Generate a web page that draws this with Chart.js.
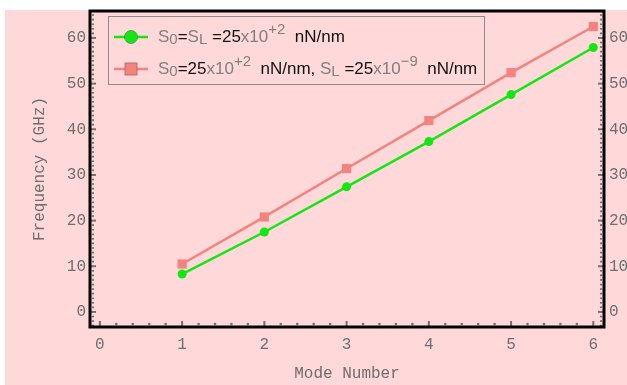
<!DOCTYPE html>
<html>
<head>
<meta charset="utf-8">
<script src="https://cdn.jsdelivr.net/npm/chart.js@4.4.1/dist/chart.umd.min.js"></script>
<style>
  html, body { margin: 0; padding: 0; background: #ffffff; }
  #wrap { position: relative; width: 627px; height: 385px; }
</style>
</head>
<body>
<div id="wrap"><canvas id="chart" width="627" height="385"></canvas></div>
<script>
// Données.
const modes = [ 1, 2, 3, 4, 5, 6 ];
const freq_same = [ 8.3, 17.5, 27.4, 37.3, 47.6, 57.9 ];
const freq_diff = [ 10.5, 20.8, 31.4, 41.9, 52.4, 62.5 ];
const x_ticks = [ 0, 1, 2, 3, 4, 5, 6 ];
const y_ticks = [ 0, 10, 20, 30, 40, 50, 60 ];

const GRAY_TEXT = "#6e6e6e";
const MONO = "'Liberation Mono', 'DejaVu Sans Mono', monospace";
const SANS = "'Liberation Sans', Arial, sans-serif";
const GREEN = "#14e614";
const RED = "#f4827e";

// Libellés de la légende : [texte, couleur, décalage] ( 0 normal, 1 exposant, -1 indice ).
const legend_same = [
	[ "S", "#808080", 0 ], [ "0", "#808080", -1 ], [ "=", "#111", 0 ],
	[ "S", "#808080", 0 ], [ "L", "#808080", -1 ], [ " =25", "#111", 0 ],
	[ "x10", "#808080", 0 ], [ "+2", "#808080", 1 ], [ "  nN/nm", "#111", 0 ]
];
const legend_diff = [
	[ "S", "#808080", 0 ], [ "0", "#808080", -1 ], [ "=25", "#111", 0 ],
	[ "x10", "#808080", 0 ], [ "+2", "#808080", 1 ], [ "  nN/nm, ", "#111", 0 ],
	[ "S", "#808080", 0 ], [ "L", "#808080", -1 ], [ " =25", "#111", 0 ],
	[ "x10", "#808080", 0 ], [ "\u22129", "#808080", 1 ], [ "  nN/nm", "#111", 0 ]
];

const to_points = ( values ) => modes.map( ( m, i ) => ( { x: m, y: values[ i ] } ) );

// Fond rose, cadre noir et petites graduations pointillées.
const frame_plugin = {
	id: "frame",
	beforeDraw( chart )
	{
		const ctx = chart.ctx;
		ctx.save();
		ctx.fillStyle = "#ffd9d9";
		ctx.fillRect( 5, 10, chart.width - 5, chart.height - 10 );
		ctx.restore();
	},
	afterDatasetsDraw( chart )
	{
		const ctx = chart.ctx;
		const area = chart.chartArea;
		const sx = chart.scales.x;
		const sy = chart.scales.y;
		ctx.save();

		// Graduations de l'axe X (tous les 0.2).
		ctx.fillStyle = "#707070";
		ctx.strokeStyle = "#707070";
		for ( let k = 0; k <= 30; k++ )
		{
			const px = sx.getPixelForValue( k * 0.2 );
			if ( k % 5 === 0 )
			{
				ctx.lineWidth = 2;
				ctx.beginPath();
				ctx.moveTo( px, area.bottom - 1 );
				ctx.lineTo( px, area.bottom - 6 );
				ctx.stroke();
			}
			else
			{
				ctx.beginPath();
				ctx.arc( px, area.bottom - 3, 1.3, 0, Math.PI * 2 );
				ctx.fill();
			}
		}

		// Graduations des axes Y (toutes les unités).
		for ( let v = -3; v <= 65; v++ )
		{
			const py = sy.getPixelForValue( v );
			for ( const side of [ area.left, area.right ] )
			{
				const dir = side === area.left ? 1 : -1;
				if ( v % 10 === 0 )
				{
					ctx.lineWidth = 2;
					ctx.beginPath();
					ctx.moveTo( side + dir, py );
					ctx.lineTo( side + dir * 6, py );
					ctx.stroke();
				}
				else
				{
					ctx.beginPath();
					ctx.arc( side + dir * 3, py, 1.1, 0, Math.PI * 2 );
					ctx.fill();
				}
			}
		}

		// Cadre noir.
		ctx.strokeStyle = "#000";
		ctx.lineWidth = 3;
		ctx.strokeRect( area.left, area.top, area.right - area.left, area.bottom - area.top );
		ctx.restore();
	}
};

// Légende dessinée à la main pour les indices et exposants.
function draw_rich( ctx, parts, x, y )
{
	let cx = x;
	for ( const [ text, color, shift ] of parts )
	{
		ctx.font = shift === 0 ? "17px " + SANS : "15px " + SANS;
		ctx.fillStyle = color;
		const dy = shift === 1 ? -7 : ( shift === -1 ? 3 : 0 );
		ctx.fillText( text, cx, y + dy );
		cx += ctx.measureText( text ).width;
	}
}

const legend_plugin = {
	id: "rich_legend",
	afterDraw( chart )
	{
		const ctx = chart.ctx;
		ctx.save();
		ctx.fillStyle = "#ffd9d9";
		ctx.fillRect( 108, 16, 376, 68 );
		ctx.strokeStyle = "#8a8a8a";
		ctx.lineWidth = 1;
		ctx.strokeRect( 108.5, 16.5, 376, 68 );

		const rows = [
			{ y: 37, color: GREEN, marker: "circle", parts: legend_same },
			{ y: 69, color: RED, marker: "rect", parts: legend_diff }
		];
		for ( const row of rows )
		{
			ctx.strokeStyle = row.color;
			ctx.lineWidth = 2.5;
			ctx.beginPath();
			ctx.moveTo( 114, row.y );
			ctx.lineTo( 148, row.y );
			ctx.stroke();
			ctx.fillStyle = row.color;
			if ( row.marker === "circle" )
			{
				ctx.beginPath();
				ctx.arc( 131, row.y, 6.5, 0, Math.PI * 2 );
				ctx.fill();
				ctx.strokeStyle = "#3a9a3a";
				ctx.lineWidth = 0.8;
				ctx.stroke();
			}
			else
			{
				ctx.fillRect( 125, row.y - 6, 12, 12 );
				ctx.strokeStyle = "#b06060";
				ctx.lineWidth = 0.8;
				ctx.strokeRect( 125, row.y - 6, 12, 12 );
			}
			ctx.textBaseline = "middle";
			draw_rich( ctx, row.parts, 158, row.y );
		}
		ctx.restore();
	}
};

const tick_style = {
	color: GRAY_TEXT,
	font: { family: MONO, size: 16 }
};

// Supprime les marges ajoutées par Chart.js pour les libellés extrêmes.
const no_padding = ( scale ) =>
{
	scale.paddingTop = 0;
	scale.paddingBottom = 0;
	scale.paddingLeft = 0;
	scale.paddingRight = 0;
};

new Chart( document.getElementById( "chart" ),
	{
		type: "line",
		data: {
			datasets: [
				{
					data: to_points( freq_same ),
					borderColor: GREEN,
					backgroundColor: GREEN,
					borderWidth: 2.5,
					pointStyle: "circle",
					pointRadius: 4.5,
					pointBorderWidth: 0
				},
				{
					data: to_points( freq_diff ),
					borderColor: RED,
					backgroundColor: RED,
					borderWidth: 2.5,
					pointStyle: "rect",
					pointRadius: 6.5,
					pointBorderWidth: 0
				}
			]
		},
		options: {
			responsive: false,
			animation: false,
			layout: { padding: { top: 11, left: 0, right: 0, bottom: 0 } },
			plugins: {
				legend: { display: false },
				tooltip: { enabled: false }
			},
			scales: {
				x: {
					type: "linear",
					position: "bottom",
					min: -0.12,
					max: 6.13,
					afterBuildTicks: ( scale ) => { scale.ticks = x_ticks.map( v => ( { value: v } ) ); },
					afterFit: ( scale ) => { scale.height = 58; no_padding( scale ); },
					grid: { display: false, drawTicks: false },
					border: { display: false },
					ticks: Object.assign( { padding: 8 }, tick_style ),
					title: {
						display: true,
						text: "Mode Number",
						color: GRAY_TEXT,
						font: { family: MONO, size: 16 },
						padding: { top: 0, bottom: 2 }
					}
				},
				y: {
					type: "linear",
					position: "left",
					min: -3.3,
					max: 65.9,
					afterBuildTicks: ( scale ) => { scale.ticks = y_ticks.map( v => ( { value: v } ) ); },
					afterFit: ( scale ) => { scale.width = 90; no_padding( scale ); },
					grid: { display: false, drawTicks: false },
					border: { display: false },
					ticks: Object.assign( { padding: 4 }, tick_style ),
					title: {
						display: true,
						text: "Frequency (GHz)",
						color: GRAY_TEXT,
						font: { family: MONO, size: 16 },
						padding: { top: 30, bottom: 0 }
					}
				},
				y2: {
					type: "linear",
					position: "right",
					min: -3.3,
					max: 65.9,
					afterBuildTicks: ( scale ) => { scale.ticks = y_ticks.map( v => ( { value: v } ) ); },
					afterFit: ( scale ) => { scale.width = 23; no_padding( scale ); },
					grid: { display: false, drawTicks: false },
					border: { display: false },
					ticks: Object.assign( { padding: 5 }, tick_style )
				}
			}
		},
		plugins: [ frame_plugin, legend_plugin ]
	} );
</script>
</body>
</html>
